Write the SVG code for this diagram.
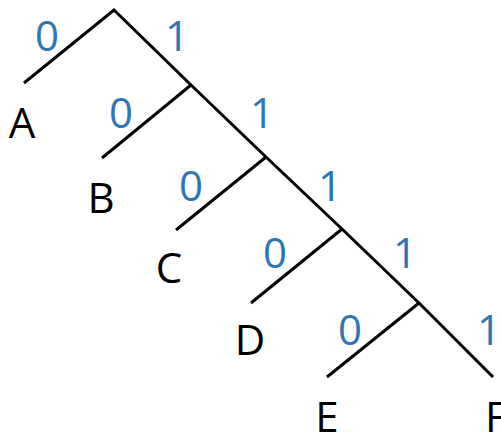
<svg xmlns="http://www.w3.org/2000/svg" width="501" height="434" viewBox="0 0 501 434">
  <style>
    .edge { stroke: #000; stroke-width: 3; fill: none; stroke-linecap: butt; stroke-linejoin: miter; }
    .bit { font-family: "Open Sans", "Liberation Sans", sans-serif; font-size: 42px; fill: #2E75B6; text-anchor: middle; }
    .leaf { font-family: "Open Sans", "Liberation Sans", sans-serif; font-size: 42px; fill: #000; text-anchor: middle; }
  </style>
  <rect width="501" height="434" fill="#fff"/>

  <!-- branches of the code tree -->
  <g id="connectors">
    <polyline class="edge" points="24,83 114,10 191,85 266,157 342,229 419,303 493,377"/>
    <line class="edge" x1="191" y1="85" x2="102" y2="158"/>
    <line class="edge" x1="266" y1="157" x2="176" y2="230"/>
    <line class="edge" x1="342" y1="229" x2="251" y2="303"/>
    <line class="edge" x1="419" y1="303" x2="327" y2="377"/>
    <!-- branch bits -->
    <text class="bit" x="47" y="51">0</text>
    <text class="bit" x="177" y="51">1</text>
    <text class="bit" x="121" y="128">0</text>
    <text class="bit" x="262" y="128">1</text>
    <text class="bit" x="191" y="201">0</text>
    <text class="bit" x="330" y="201">1</text>
    <text class="bit" x="275" y="268">0</text>
    <text class="bit" x="405" y="268">1</text>
    <text class="bit" x="350" y="345">0</text>
    <text class="bit" x="489" y="345">1</text>
  </g>

  <!-- leaf symbols -->
  <g id="leaf-A"><text class="leaf" x="22" y="138">A</text></g>
  <g id="leaf-B"><text class="leaf" x="101" y="213">B</text></g>
  <g id="leaf-C"><text class="leaf" x="169" y="283">C</text></g>
  <g id="leaf-D"><text class="leaf" x="250" y="355">D</text></g>
  <g id="leaf-E"><text class="leaf" x="327" y="432">E</text></g>
  <g id="leaf-F"><text class="leaf" x="485" y="432" style="text-anchor:start">F</text></g>
</svg>
